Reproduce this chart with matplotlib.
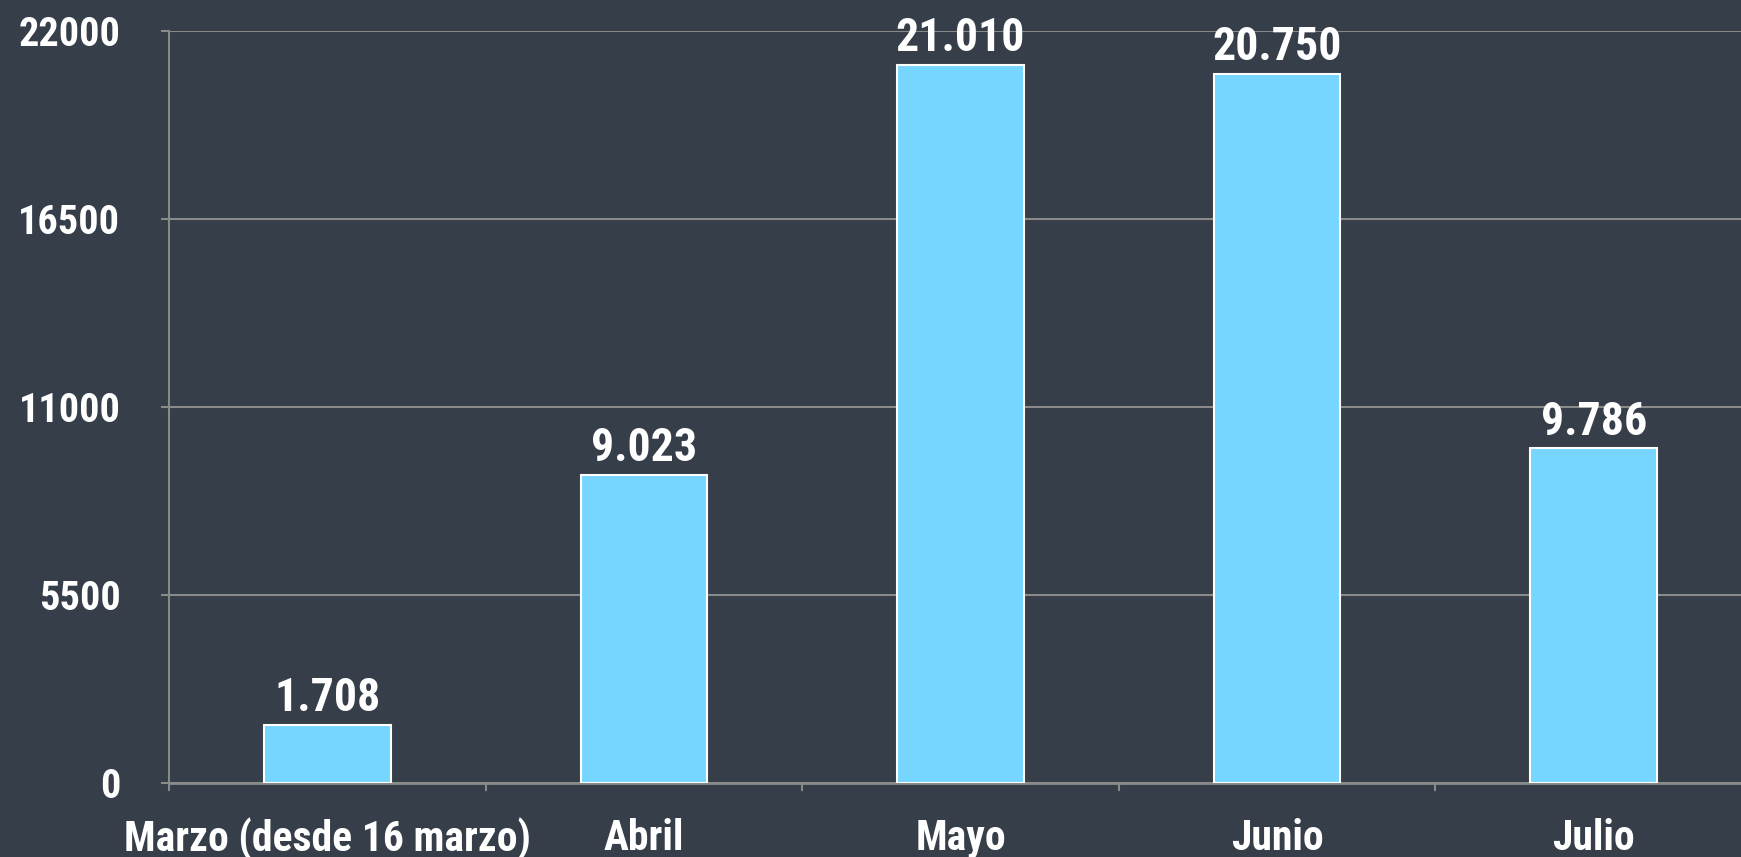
import matplotlib
matplotlib.use('Agg')
import matplotlib.pyplot as plt
import numpy as np

categories = ['Marzo (desde 16 marzo)', 'Abril', 'Mayo', 'Junio', 'Julio']
values = [1708, 9023, 21010, 20750, 9786]
value_labels = ['1.708', '9.023', '21.010', '20.750', '9.786']
yticks = [0, 5500, 11000, 16500, 22000]

BG = '#353e49'
BAR = '#76d6ff'
GRID = '#8a8a8a'

plt.rcParams['font.family'] = ['Roboto Condensed', 'DejaVu Sans']
plt.rcParams['font.weight'] = 'bold'

fig = plt.figure(figsize=(17.41, 8.57), dpi=100, facecolor=BG)
ax = fig.add_axes([169 / 1741, 74 / 857, 1583 / 1741, 752 / 857], facecolor=BG)

x = np.arange(len(categories))
ax.bar(x, values, width=0.4, color=BAR, edgecolor='white', linewidth=1.5, zorder=3)

# value labels above each bar
for xi, v, lab in zip(x, values, value_labels):
    ax.annotate(lab, (xi, v), xytext=(0, 10), textcoords='offset points',
                ha='center', va='baseline', color='white', fontsize=33, fontweight='bold',
                zorder=4)

ax.set_xlim(-0.5, len(categories) - 0.5)
ax.set_ylim(0, 22000)
ax.set_yticks(yticks)
ax.set_yticklabels([str(t) for t in yticks])
ax.yaxis.grid(True, color=GRID, linewidth=1.5, zorder=0)
ax.set_axisbelow(True)

ax.set_xticks(x)
ax.set_xticklabels(categories)
ax.set_xticks(np.arange(-0.5, len(categories), 1.0), minor=True)
ax.tick_params(axis='x', which='major', length=0, pad=25, labelsize=30, labelcolor='white')
ax.tick_params(axis='x', which='minor', length=6, width=1.5, color=GRID, direction='out')
ax.tick_params(axis='y', length=6, width=1.5, color=GRID, pad=29, labelsize=29, labelcolor='white')

for side in ['top', 'right']:
    ax.spines[side].set_visible(False)
ax.spines['left'].set_color(GRID)
ax.spines['left'].set_linewidth(1.5)
ax.spines['bottom'].set_color(GRID)
ax.spines['bottom'].set_linewidth(2)

fig.savefig('out.png', dpi=100, facecolor=BG)
